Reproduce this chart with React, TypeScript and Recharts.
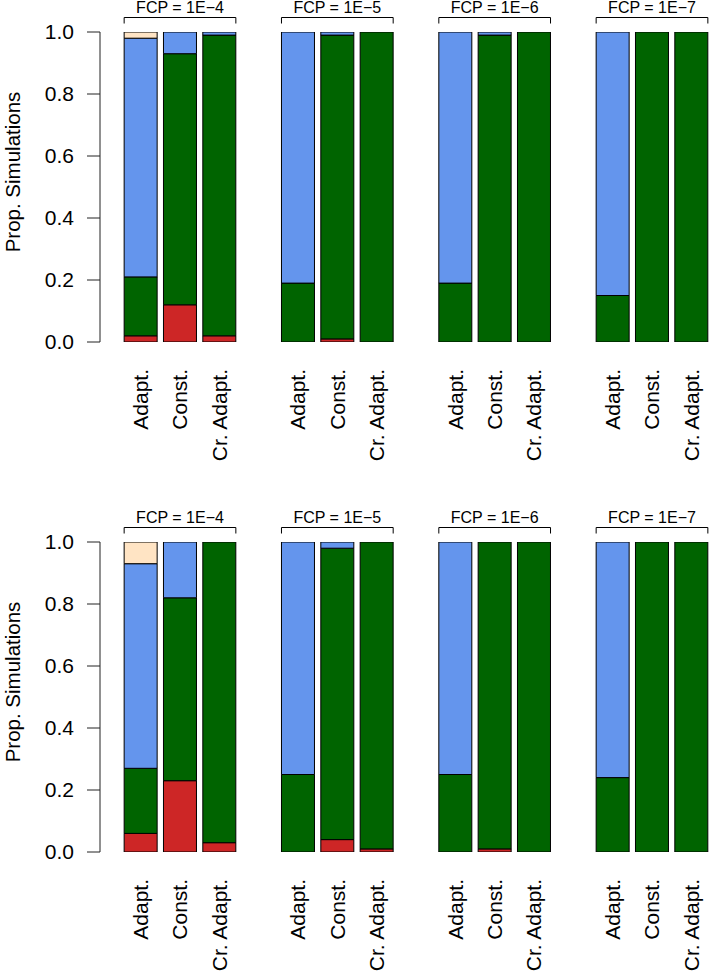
import React from 'react';
import { BarChart, Bar, XAxis, YAxis } from 'recharts';

const fcpLevels = ['1E−4', '1E−5', '1E−6', '1E−7'];
const methods = ['Adapt.', 'Const.', 'Cr. Adapt.'];
const yTicks = [0, 0.2, 0.4, 0.6, 0.8, 1.0];

// segment sizes, bottom to top; order: FCP level x method
const topRed = [0.02, 0.12, 0.02, 0, 0.01, 0, 0, 0, 0, 0, 0, 0];
const topGreen = [0.19, 0.81, 0.97, 0.19, 0.98, 1, 0.19, 0.99, 1, 0.15, 1, 1];
const topBlue = [0.77, 0.07, 0.01, 0.81, 0.01, 0, 0.81, 0.01, 0, 0.85, 0, 0];
const topBisque = [0.02, 0, 0, 0, 0, 0, 0, 0, 0, 0, 0, 0];

const botRed = [0.06, 0.23, 0.03, 0, 0.04, 0.01, 0, 0.01, 0, 0, 0, 0];
const botGreen = [0.21, 0.59, 0.97, 0.25, 0.94, 0.99, 0.25, 0.99, 1, 0.24, 1, 1];
const botBlue = [0.66, 0.18, 0, 0.75, 0.02, 0, 0.75, 0, 0, 0.76, 0, 0];
const botBisque = [0.07, 0, 0, 0, 0, 0, 0, 0, 0, 0, 0, 0];

const RED = '#CD2626';
const GREEN = '#006400';
const BLUE = '#6495ED';
const BISQUE = '#FFE4C4';

const CHART_W = 711;
const CHART_H = 467;
const Y_W = 100;
const PAD_L = 21;
const TOP_H = 32;
const BOTTOM_H = 125;
const SLOT = (CHART_W - Y_W - PAD_L) / 15;
const GAP = SLOT * 0.08;
const FONT = '"Liberation Sans", Arial, Helvetica, sans-serif';

function buildRows(red: number[], green: number[], blue: number[], bisque: number[]) {
  const rows: any[] = [];
  fcpLevels.forEach((fcp, g) => {
    methods.forEach((m, i) => {
      const k = g * 3 + i;
      rows.push({ key: `${fcp}|${m}`, red: red[k], green: green[k], blue: blue[k], bisque: bisque[k] });
    });
    if (g < fcpLevels.length - 1) rows.push({ key: `gap${g}` });
  });
  return rows;
}

const MethodTick = (props: any) => {
  const { x, payload } = props;
  const method = String(payload.value).split('|')[1];
  if (!method) return <g />;
  return (
    <text
      transform={`translate(${x},${CHART_H - BOTTOM_H + 27}) rotate(-90)`}
      dy="0.355em"
      textAnchor="end"
      fontSize={21}
      fill="#000"
    >
      {method}
    </text>
  );
};

const FcpTick = (props: any) => {
  const { x, payload } = props;
  const [fcp, method] = String(payload.value).split('|');
  if (method !== methods[1]) return <g />;
  const half = 1.5 * SLOT - GAP;
  return (
    <g>
      <path d={`M${x - half},23.5 V17.5 H${x + half} V23.5`} stroke="#000" strokeWidth={1} fill="none" />
      <text x={x} y={13} textAnchor="middle" fontSize={16} fill="#000">
        FCP = {fcp}
      </text>
    </g>
  );
};

const Panel = ({ rows }: { rows: any[] }) => (
  <BarChart
    width={CHART_W}
    height={CHART_H}
    data={rows}
    margin={{ top: 0, right: 0, bottom: 0, left: 0 }}
    barCategoryGap="8%"
  >
    <XAxis
      dataKey="key"
      height={BOTTOM_H}
      interval={0}
      axisLine={false}
      tickLine={false}
      padding={{ left: PAD_L, right: 0 }}
      tick={<MethodTick />}
    />
    <XAxis
      xAxisId="top"
      dataKey="key"
      orientation="top"
      height={TOP_H}
      interval={0}
      axisLine={false}
      tickLine={false}
      padding={{ left: PAD_L, right: 0 }}
      tick={<FcpTick />}
    />
    <YAxis
      width={Y_W}
      domain={[0, 1]}
      allowDataOverflow
      ticks={yTicks}
      interval={0}
      tickFormatter={(v: number) => v.toFixed(1)}
      tickSize={13}
      tickMargin={13}
      axisLine={{ stroke: '#222' }}
      tickLine={{ stroke: '#222' }}
      tick={{ fontSize: 21, fill: '#000' }}
      label={{
        content: () => (
          <text transform="translate(20,172) rotate(-90)" textAnchor="middle" fontSize={20.5} fill="#000">
            Prop. Simulations
          </text>
        ),
      }}
    />
    <Bar dataKey="red" stackId="s" fill={RED} stroke="#000" strokeWidth={1} isAnimationActive={false} />
    <Bar dataKey="green" stackId="s" fill={GREEN} stroke="#000" strokeWidth={1} isAnimationActive={false} />
    <Bar dataKey="blue" stackId="s" fill={BLUE} stroke="#000" strokeWidth={1} isAnimationActive={false} />
    <Bar dataKey="bisque" stackId="s" fill={BISQUE} stroke="#000" strokeWidth={1} isAnimationActive={false} />
  </BarChart>
);

export default function App() {
  const topRows = buildRows(topRed, topGreen, topBlue, topBisque);
  const botRows = buildRows(botRed, botGreen, botBlue, botBisque);
  return (
    <div
      style={{
        position: 'absolute',
        left: 0,
        top: 0,
        width: 709,
        height: 977,
        overflow: 'hidden',
        background: '#fff',
        fontFamily: FONT,
      }}
    >
      <div style={{ position: 'absolute', left: 0, top: 0 }}>
        <Panel rows={topRows} />
      </div>
      <div style={{ position: 'absolute', left: 0, top: 510 }}>
        <Panel rows={botRows} />
      </div>
    </div>
  );
}
